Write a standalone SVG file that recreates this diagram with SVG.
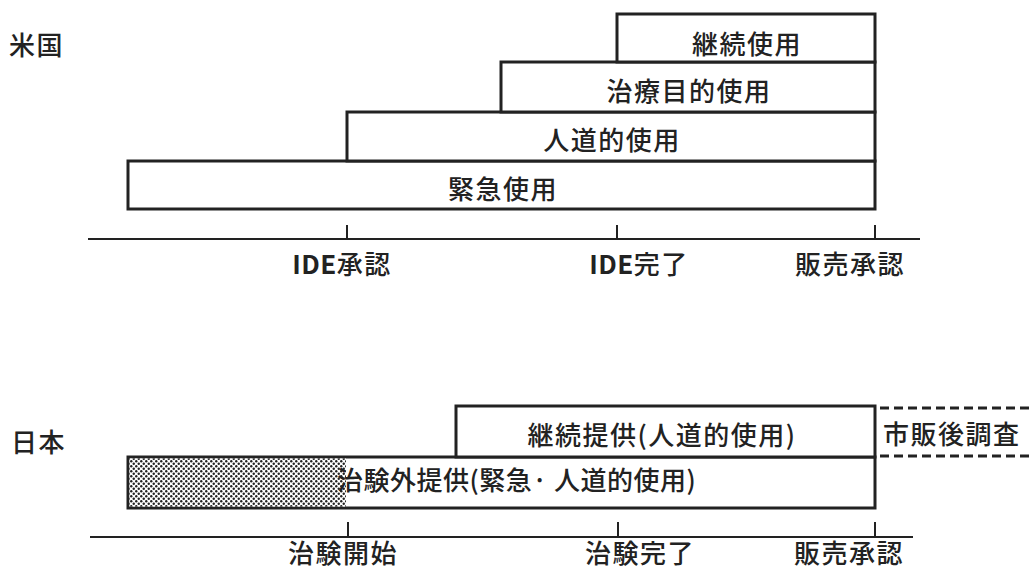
<svg xmlns="http://www.w3.org/2000/svg" width="1031" height="570" viewBox="0 0 1031 570">
<style>
text{font-family:"Noto Sans CJK JP","Noto Sans",sans-serif;fill:#222;font-size:26px;font-weight:500;letter-spacing:1.5px}
.lbl{text-anchor:middle;dominant-baseline:central}
.box{fill:#fff;stroke:#222;stroke-width:3}
.axis{stroke:#222;stroke-width:2;fill:none}
.dash{stroke:#222;stroke-width:3;stroke-dasharray:9 5;fill:none}
.b{font-weight:bold;letter-spacing:0.5px}
</style>
<defs>
<pattern id="dots" width="5" height="5" patternUnits="userSpaceOnUse">
<rect width="5" height="5" fill="#fff"/>
<circle cx="1.25" cy="1.25" r="1.2" fill="#222"/>
<circle cx="3.75" cy="3.75" r="1.2" fill="#222"/>
</pattern>
</defs>
<rect width="1031" height="570" fill="#fff"/>
<g id="title-us"><text x="9" y="43" style="dominant-baseline:central">米国</text></g>
<g id="title-jp"><text x="11" y="440" style="dominant-baseline:central">日本</text></g>

<g id="us-emergency"><rect class="box" x="128" y="161" width="747" height="48"/><text class="lbl" x="503" y="187">緊急使用</text></g>
<g id="us-humanitarian"><rect class="box" x="347" y="112" width="528" height="49"/><text class="lbl" x="612" y="138">人道的使用</text></g>
<g id="us-treatment"><rect class="box" x="501" y="62" width="374" height="50"/><text class="lbl" x="689" y="89">治療目的使用</text></g>
<g id="us-continued"><rect class="box" x="617" y="14" width="258" height="48"/><text class="lbl" x="747" y="42">継続使用</text></g>

<g id="jp-outside"><rect class="box" x="128" y="457" width="747" height="51"/><rect x="129.5" y="458.5" width="216.5" height="48" fill="url(#dots)"/><text x="337" y="478" style="dominant-baseline:central;letter-spacing:0.5px">治験外提供(緊急· 人道的使用)</text></g>
<g id="jp-continued"><rect class="box" x="456" y="406" width="419" height="51"/><text class="lbl" x="662" y="433">継続提供(人道的使用)</text></g>
<g id="jp-postmarket"><line class="dash" x1="880" y1="408" x2="1031" y2="408"/><line class="dash" x1="880" y1="456" x2="1031" y2="456"/><text x="883" y="432" style="dominant-baseline:central">市販後調査</text></g>

<g id="connectors">
<line class="axis" x1="88" y1="239" x2="920" y2="239"/>
<line class="axis" x1="347" y1="225" x2="347" y2="239"/>
<line class="axis" x1="617" y1="225" x2="617" y2="239"/>
<line class="axis" x1="875" y1="225" x2="875" y2="239"/>
<line class="axis" x1="90" y1="537" x2="913" y2="537"/>
<line class="axis" x1="348" y1="522" x2="348" y2="537"/>
<line class="axis" x1="618" y1="522" x2="618" y2="537"/>
<line class="axis" x1="875" y1="522" x2="875" y2="537"/>
</g>

<g id="us-labels">
<text class="lbl" x="342" y="262"><tspan class="b">IDE</tspan>承認</text>
<text class="lbl" x="639" y="262"><tspan class="b">IDE</tspan>完了</text>
<text class="lbl" x="850" y="262">販売承認</text>
</g>
<g id="jp-labels">
<text class="lbl" x="343" y="551">治験開始</text>
<text class="lbl" x="640" y="551">治験完了</text>
<text class="lbl" x="849" y="551">販売承認</text>
</g>
</svg>
